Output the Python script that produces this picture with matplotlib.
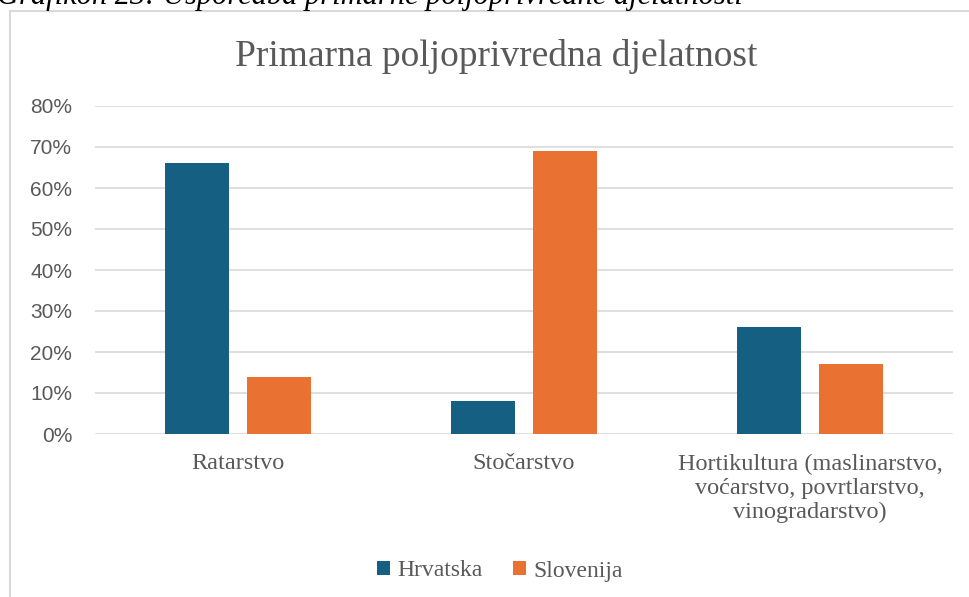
import matplotlib
matplotlib.use('Agg')
import matplotlib.pyplot as plt
import numpy as np
from matplotlib.patches import Rectangle

categories = ['Ratarstvo', 'Stočarstvo',
              'Hortikultura (maslinarstvo,\nvoćarstvo, povrtlarstvo,\nvinogradarstvo)']
hrvatska = [66, 8, 26]
slovenija = [14, 69, 17]
series_names = ['Hrvatska', 'Slovenija']
colors = ['#156082', '#E97132']
yticks = [0, 10, 20, 30, 40, 50, 60, 70, 80]

serif = 'Liberation Serif'
sans = 'Liberation Sans'
grey = '#595959'

fig = plt.figure(figsize=(9.7, 5.97), dpi=100)
fig.patches.append(Rectangle((10 / 970, -0.01), 1.0, 1 - 11 / 597 + 0.01,
                             transform=fig.transFigure, fill=False,
                             edgecolor='#d9d9d9', linewidth=1.5))
fig.text(-0.003, 1 - 4 / 597, 'Grafikon 23: Usporedba primarne poljoprivredne djelatnosti',
         family=serif, style='italic', fontsize=22, va='baseline', ha='left', color='black')

ax = fig.add_axes([95 / 970, 1 - 434 / 597, 858 / 970, 328 / 597])
x = np.arange(len(categories))
w = 0.224
off = 0.143
ax.bar(x - off, hrvatska, w, color=colors[0], label=series_names[0], zorder=3)
ax.bar(x + off, slovenija, w, color=colors[1], label=series_names[1], zorder=3)

ax.set_xlim(-0.5, 2.5)
ax.set_ylim(0, 80)
ax.set_yticks(yticks)
ax.set_yticklabels([f'{v}%' for v in yticks], family=sans, fontsize=15, color=grey)
ax.set_xticks(x)
ax.set_xticklabels(categories, family=serif, fontsize=17.5, color=grey, linespacing=1.2, va='top')
ax.tick_params(axis='both', length=0)
ax.tick_params(axis='y', pad=16.5)
ax.tick_params(axis='x', pad=14)
ax.grid(axis='y', color='#d9d9d9', linewidth=1.2, zorder=0)
for s in ax.spines.values():
    s.set_visible(False)
ax.set_axisbelow(True)

fig.text(496 / 970, 1 - 57 / 597, 'Primarna poljoprivredna djelatnost',
         family=serif, fontsize=27, color=grey, ha='center', va='center')

leg = fig.legend(loc='center', bbox_to_anchor=(500 / 970, 1 - 571 / 597), ncol=2,
                 frameon=False, prop={'family': serif, 'size': 17},
                 handlelength=0.55, handleheight=0.55, handletextpad=0.3, columnspacing=1.3)
for t in leg.get_texts():
    t.set_color(grey)

fig.savefig('out.png', dpi=100)
